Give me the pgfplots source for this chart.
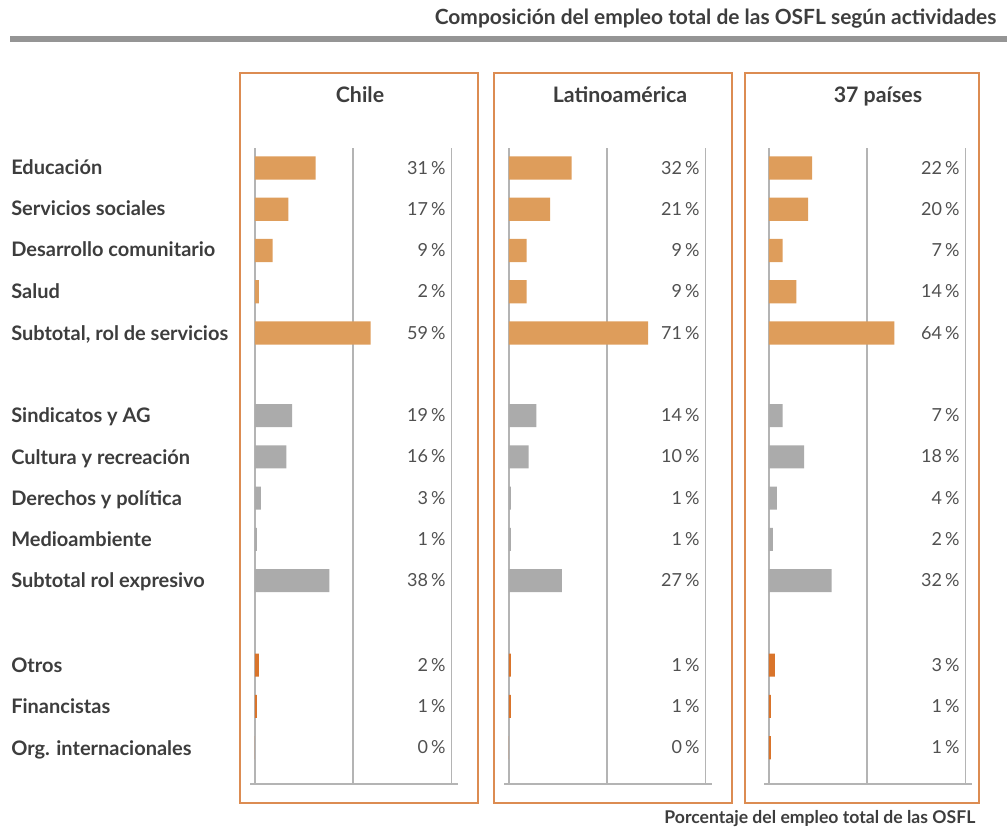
\documentclass[border=0pt]{standalone}
\usepackage{pgfplots}
\pgfplotsset{compat=1.18}
\usepackage{fontspec}
\setmainfont{Lato}

\definecolor{serv}{HTML}{DE9D5B}
\definecolor{expr}{HTML}{ABABAB}
\definecolor{otro}{HTML}{D9742B}
\definecolor{marco}{HTML}{DC8C52}
\definecolor{grilla}{HTML}{B4B4B4}
\definecolor{texto}{HTML}{3D3D3D}
\definecolor{regla}{HTML}{959595}

% 1 px de la referencia = 0.75pt
\pgfplotsset{
  panel/.style={
    anchor=south west, at={(#1,-588pt)},
    scale only axis, width=156pt, height=477pt,
    xmin=-2.5, xmax=103.5, ymin=-0.485, ymax=14.93, y dir=reverse,
    axis y line=none, axis x line*=bottom,
    axis line style={draw=grilla, line width=0.9pt},
    xtick={0,50,100}, xticklabels={}, major tick length=0pt,
    ytick=\empty,
    grid=major, major grid style={draw=grilla, line width=0.9pt},
    clip=false,
  },
  barra/.style={xbar, bar width=0.56, bar shift=0pt, draw=none, fill=#1},
}
\newcommand{\pct}[2]{\node[anchor=base east, font=\fontsize{13.5}{16}\selectfont,
  text=texto!90, yshift=-4.6pt] at (axis cs:99.5,#1) {#2\,\%};}

\begin{document}
\begin{tikzpicture}[x=0.75pt, y=-0.75pt]
\path[use as bounding box] (0,0) rectangle (1007,827);

% titulo y regla
\node[anchor=base east, font=\bfseries\fontsize{15.7}{18}\selectfont, text=texto]
  at (1001,25) {Composición del empleo total de las OSFL según actividades};
\fill[regla] (10,36) rectangle (1007,42);

% marcos
\draw[marco, line width=1.1pt] (240,73) rectangle (478,803);
\draw[marco, line width=1.1pt] (494,73) rectangle (732,803);
\draw[marco, line width=1.1pt] (745,73) rectangle (979,803);

\begin{scope}[font=\bfseries\fontsize{16}{19}\selectfont, text=texto]
\node[anchor=base] at (360,103) {Chile};
\node[anchor=base] at (620,103) {Latinoamérica};
\node[anchor=base] at (878,103) {37 países};
\end{scope}

% categorias
\begin{scope}[font=\bfseries\fontsize{15}{18}\selectfont, text=texto]
\foreach \y/\t in {168/Educación, 209/Servicios sociales, 250/Desarrollo comunitario,
  292/Salud, 333/{Subtotal, rol de servicios}, 415/Sindicatos y AG,
  457/Cultura y recreación, 498/Derechos y política, 539/Medioambiente,
  580/Subtotal rol expresivo, 665/Otros, 706/Financistas, 748/Org. internacionales}
  \node[anchor=base west, inner xsep=0pt] at (11,\y+7) {\t};
\end{scope}

\node[anchor=base east, font=\bfseries\fontsize{13.2}{16}\selectfont, text=texto]
  at (980,823) {Porcentaje del empleo total de las OSFL};

% Chile
\begin{axis}[panel=187.5pt]
\addplot[barra=serv] coordinates {(31,0) (17,1) (9,2) (2,3) (59,4)};
\addplot[barra=expr] coordinates {(19,6) (16,7) (3,8) (1,9) (38,10)};
\addplot[barra=otro] coordinates {(2,12.05) (1,13.05) (0,14.05)};
\pct{0}{31}\pct{1}{17}\pct{2}{9}\pct{3}{2}\pct{4}{59}
\pct{6}{19}\pct{7}{16}\pct{8}{3}\pct{9}{1}\pct{10}{38}
\pct{12.05}{2}\pct{13.05}{1}\pct{14.05}{0}
\end{axis}

% Latinoamerica
\begin{axis}[panel=378pt]
\addplot[barra=serv] coordinates {(32,0) (21,1) (9,2) (9,3) (71,4)};
\addplot[barra=expr] coordinates {(14,6) (10,7) (1,8) (1,9) (27,10)};
\addplot[barra=otro] coordinates {(1,12.05) (1,13.05) (0,14.05)};
\pct{0}{32}\pct{1}{21}\pct{2}{9}\pct{3}{9}\pct{4}{71}
\pct{6}{14}\pct{7}{10}\pct{8}{1}\pct{9}{1}\pct{10}{27}
\pct{12.05}{1}\pct{13.05}{1}\pct{14.05}{0}
\end{axis}

% 37 paises
\begin{axis}[panel=573pt]
\addplot[barra=serv] coordinates {(22,0) (20,1) (7,2) (14,3) (64,4)};
\addplot[barra=expr] coordinates {(7,6) (18,7) (4,8) (2,9) (32,10)};
\addplot[barra=otro] coordinates {(3,12.05) (1,13.05) (1,14.05)};
\pct{0}{22}\pct{1}{20}\pct{2}{7}\pct{3}{14}\pct{4}{64}
\pct{6}{7}\pct{7}{18}\pct{8}{4}\pct{9}{2}\pct{10}{32}
\pct{12.05}{3}\pct{13.05}{1}\pct{14.05}{1}
\end{axis}
\end{tikzpicture}
\end{document}
